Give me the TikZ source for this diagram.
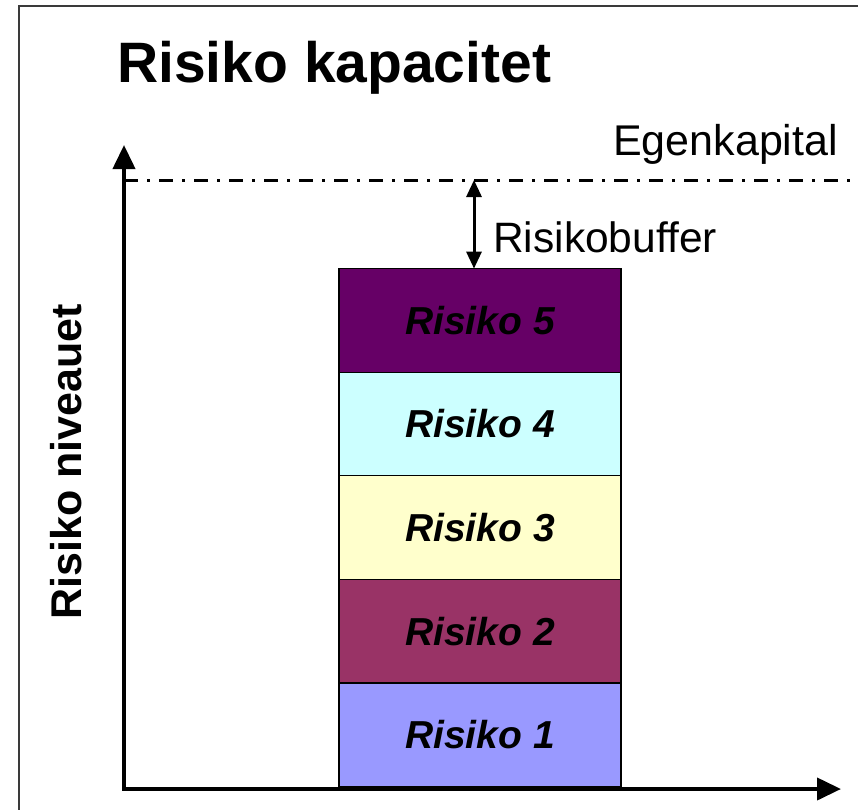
\documentclass[tikz,border=0pt]{standalone}
\usepackage{fontspec}
\setmainfont{Liberation Sans}
\usetikzlibrary{arrows.meta}
\definecolor{rfive}{HTML}{660066}
\definecolor{rfour}{HTML}{CCFFFF}
\definecolor{rthree}{HTML}{FFFFCC}
\definecolor{rtwo}{HTML}{993366}
\definecolor{rone}{HTML}{9999FF}
\definecolor{framegray}{HTML}{3A3A3A}
\tikzset{
  riskbox/.style={draw=black, line width=1.2pt, minimum width=282pt, minimum height=103.6pt, inner sep=0pt, outer sep=0pt,
    font=\fontsize{39}{39}\selectfont\bfseries\itshape},
  axisline/.style={line width=4pt, -{Triangle[length=24pt,width=22pt]}},
  bufarrow/.style={line width=3pt, {Triangle[length=17pt,width=15pt]}-{Triangle[length=17pt,width=15pt]}},
  dashline/.style={line width=3pt, dash pattern=on 14pt off 9pt on 3pt off 9pt},
}
\begin{document}
\begin{tikzpicture}[x=1pt,y=-1pt]
\useasboundingbox (0,0) rectangle (858,809);
% frame
\draw[framegray, line width=2pt] (19,820) -- (19,6) -- (870,6);
% title
\node[anchor=base west, inner sep=0pt, font=\fontsize{57}{57}\selectfont\bfseries] (title) at (117,82) {Risiko kapacitet};
% boxes
\node[riskbox, fill=rone, anchor=north west] (r1) at (339,683) {Risiko 1};
\node[riskbox, fill=rtwo, anchor=south west] (r2) at (339,683) {Risiko 2};
\node[riskbox, fill=rthree, anchor=south] (r3) at (r2.north) {Risiko 3};
\node[riskbox, fill=rfour, anchor=south] (r4) at (r3.north) {Risiko 4};
\node[riskbox, fill=rfive, anchor=south] (r5) at (r4.north) {Risiko 5};
% axes
\coordinate (origin) at (124,789);
\coordinate (ytop) at (124,145);
\coordinate (xend) at (841,789);
\draw[axisline] ([yshift=2pt]origin) -- (ytop);
\draw[axisline] ([xshift=-2pt]origin) -- (xend);
% equity line
\coordinate (eqL) at (124,180);
\coordinate (eqR) at (858,180);
\draw[dashline] (eqL) -- (eqR);
\node[anchor=base west, inner sep=0pt, font=\fontsize{43}{43}\selectfont] (egen) at (613,155) {Egenkapital};
% buffer arrow
\coordinate (bufTop) at (474,180);
\draw[bufarrow] (bufTop) -- (bufTop |- r5.north);
\node[anchor=base west, inner sep=0pt, font=\fontsize{42.5}{42.5}\selectfont] (buf) at (493,252) {Risikobuffer};
% y label
\node[rotate=90, inner sep=0pt, font=\fontsize{43}{43}\selectfont\bfseries] (ylab) at (66,462) {Risiko niveauet};
\end{tikzpicture}
\end{document}
